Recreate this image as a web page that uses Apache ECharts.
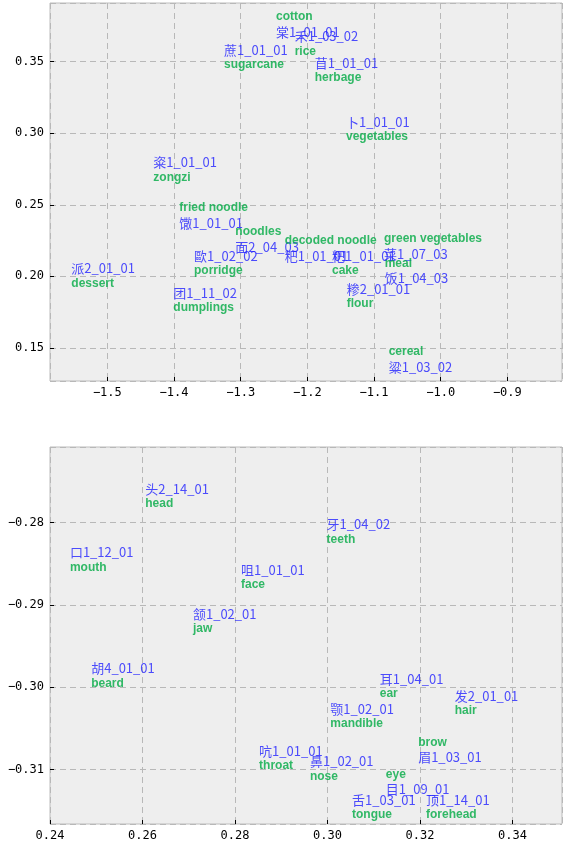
<!DOCTYPE html>
<html>
<head>
<meta charset="utf-8">
<script src="https://cdn.jsdelivr.net/npm/echarts@6/dist/echarts.min.js"></script>
<style>
  html, body { margin: 0; padding: 0; background: #fff; }
  #main { width: 566px; height: 845px; }
</style>
</head>
<body>
<div id="main"></div>
<script>
// 上图：食物类词语
const foodCodes = ["棠1_01_01", "禾1_03_02", "蔗1_01_01", "苜1_01_01", "卜1_01_01", "粢1_01_01",
  "馓1_01_01", "面2_04_03", "歐1_02_02", "粑1_01_01", "粑1_01_01", "菜1_07_03",
  "饭1_04_03", "派2_01_01", "团1_11_02", "糁2_01_01", "粱1_03_02"];
const foodGlosses = ["cotton", "rice", "sugarcane", "herbage", "vegetables", "zongzi",
  "fried noodle", "noodles", "porridge", "decoded noodle", "cake", "green vegetables",
  "meal", "dessert", "dumplings", "flour", "cereal"];
const foodX = [-1.247, -1.219, -1.325, -1.189, -1.142, -1.431, -1.392, -1.308, -1.370,
  -1.234, -1.163, -1.085, -1.084, -1.554, -1.401, -1.141, -1.078];
const foodY = [0.3708, 0.3677, 0.3584, 0.3491, 0.3080, 0.2796, 0.2372, 0.2204, 0.2143,
  0.2143, 0.2143, 0.2157, 0.1987, 0.2057, 0.1883, 0.1913, 0.1369];

// 下图：身体部位词语
const bodyCodes = ["头2_14_01", "牙1_04_02", "口1_12_01", "咀1_01_01", "颔1_02_01", "胡4_01_01",
  "耳1_04_01", "发2_01_01", "颚1_02_01", "眉1_03_01", "吭1_01_01", "鼻1_02_01",
  "目1_09_01", "舌1_03_01", "顶1_14_01"];
const bodyGlosses = ["head", "teeth", "mouth", "face", "jaw", "beard", "ear", "hair",
  "mandible", "brow", "throat", "nose", "eye", "tongue", "forehead"];
const bodyX = [0.2606, 0.2998, 0.2443, 0.2813, 0.2709, 0.2489, 0.3113, 0.3275, 0.3006,
  0.3196, 0.2852, 0.2962, 0.3126, 0.3053, 0.3213];
const bodyY = [-0.2759, -0.2802, -0.2836, -0.2857, -0.2911, -0.2977, -0.2990, -0.3010,
  -0.3026, -0.3085, -0.3077, -0.3090, -0.3124, -0.3137, -0.3137];

// 英文标签写在编号上方的那些词
const glossAbove = ["cotton", "fried noodle", "noodles", "decoded noodle",
  "green vegetables", "meal", "cereal", "brow", "eye"];

const myChart = echarts.init(document.getElementById("main"));

const tickFmt = (digits) => (v) => v.toFixed(digits).replace("-", "\u2212");

function valueAxis(gridIndex, min, max, step, digits, isX) {
  return {
    type: "value",
    gridIndex: gridIndex,
    min: min,
    max: max,
    minInterval: step,
    maxInterval: step,
    axisLine: { show: false },
    axisTick: { show: true, inside: true, length: 4, lineStyle: { color: "#000", width: 1 } },
    axisLabel: {
      color: "#000",
      fontSize: 12,
      fontFamily: "DejaVu Sans Mono",
      margin: 6,
      showMinLabel: isX && gridIndex === 1,
      showMaxLabel: false,
      formatter: tickFmt(digits),
    },
    splitLine: { show: true, lineStyle: { color: "#b8b8b8", type: [6, 4], width: 1 } },
  };
}

function codeSeries(idx, codes, xs, ys) {
  return {
    type: "scatter",
    xAxisIndex: idx,
    yAxisIndex: idx,
    symbolSize: 0,
    silent: true,
    data: codes.map((c, i) => ({ name: c, value: [xs[i], ys[i]] })),
    label: {
      show: true,
      position: "inside",
      align: "left",
      verticalAlign: "middle",
      formatter: "{b}",
      color: "#2222ff",
      fontSize: 13,
      fontFamily: "Noto Sans CJK SC",
    },
  };
}

function glossSeries(idx, glosses, xs, ys) {
  return {
    type: "scatter",
    xAxisIndex: idx,
    yAxisIndex: idx,
    symbolSize: 0,
    silent: true,
    data: glosses.map((g, i) => ({
      name: g,
      value: [xs[i], ys[i]],
      label: { offset: [0, glossAbove.includes(g) ? -15 : 15] },
    })),
    label: {
      show: true,
      position: "inside",
      align: "left",
      verticalAlign: "middle",
      formatter: "{b}",
      color: "#00aa44",
      fontSize: 12,
      fontWeight: "bold",
      fontFamily: "Liberation Sans",
    },
  };
}

const option = {
  animation: false,
  grid: [
    { left: 50, top: 3, width: 512, height: 378, show: true,
      backgroundColor: "#eeeeee", borderColor: "#bcbcbc", borderWidth: 1 },
    { left: 50, top: 447, width: 512, height: 377, show: true,
      backgroundColor: "#eeeeee", borderColor: "#bcbcbc", borderWidth: 1 },
  ],
  xAxis: [
    valueAxis(0, -1.586, -0.818, 0.1, 1, true),
    valueAxis(1, 0.24, 0.3507, 0.02, 2, true),
  ],
  yAxis: [
    valueAxis(0, 0.1269, 0.391, 0.05, 2, false),
    valueAxis(1, -0.3166, -0.2708, 0.01, 2, false),
  ],
  series: [
    codeSeries(0, foodCodes, foodX, foodY),
    glossSeries(0, foodGlosses, foodX, foodY),
    codeSeries(1, bodyCodes, bodyX, bodyY),
    glossSeries(1, bodyGlosses, bodyX, bodyY),
  ],
};

myChart.setOption(option);
</script>
</body>
</html>
